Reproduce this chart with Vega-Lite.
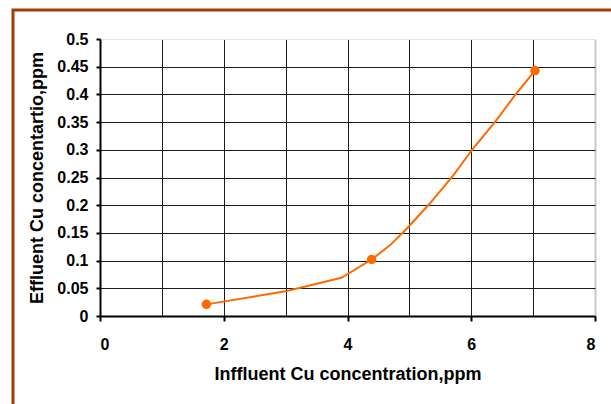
{
  "$schema": "https://vega.github.io/schema/vega-lite/v6.json",
  "autosize": {"type": "none"},
  "width": 495,
  "height": 277,
  "padding": {"left": 100, "top": 39, "right": 16, "bottom": 88},
  "background": "white",
  "config": {
    "view": {"stroke": "#dcdcdc", "strokeWidth": 1},
    "font": "Liberation Sans"
  },
  "data": {
    "values": [
      {"influent": 1.72, "effluent": 0.021, "marker": true},
      {"influent": 3.02, "effluent": 0.045, "marker": false},
      {"influent": 3.9, "effluent": 0.069, "marker": false},
      {"influent": 4.39, "effluent": 0.102, "marker": true},
      {"influent": 4.69, "effluent": 0.128, "marker": false},
      {"influent": 4.96, "effluent": 0.158, "marker": false},
      {"influent": 5.33, "effluent": 0.203, "marker": false},
      {"influent": 5.71, "effluent": 0.254, "marker": false},
      {"influent": 6.02, "effluent": 0.301, "marker": false},
      {"influent": 6.41, "effluent": 0.354, "marker": false},
      {"influent": 6.73, "effluent": 0.402, "marker": false},
      {"influent": 7.03, "effluent": 0.443, "marker": true}
    ]
  },
  "encoding": {
    "x": {
      "field": "influent", "type": "quantitative",
      "scale": {"domain": [0, 8], "nice": false, "zero": false},
      "axis": {
        "title": "Inffluent Cu concentration,ppm",
        "values": [0, 1, 2, 3, 4, 5, 6, 7, 8],
        "labelExpr": "datum.value % 2 === 0 ? datum.label : ''",
        "tickOpacity": {"condition": {"test": "datum.value % 2 === 0", "value": 1}, "value": 0},
        "tickColor": "#000", "tickSize": 5, "tickWidth": 2,
        "domainColor": "#000", "domainWidth": 2,
        "grid": true,
        "gridColor": {"condition": {"test": "datum.value === 8", "value": "#c8c8c8"}, "value": "#1a1a1a"},
        "gridWidth": {"condition": {"test": "datum.value === 8", "value": 2}, "value": 1},
        "labelFont": "Liberation Sans", "labelFontWeight": "bold", "labelFontSize": 16, "labelColor": "#000",
        "labelPadding": 15,
        "titleFont": "Liberation Sans", "titleFontWeight": "bold", "titleFontSize": 18, "titleColor": "#000",
        "titlePadding": 13
      }
    },
    "y": {
      "field": "effluent", "type": "quantitative",
      "scale": {"domain": [0, 0.5], "nice": false},
      "axis": {
        "title": "Effluent Cu concentartio,ppm",
        "values": [0, 0.05, 0.1, 0.15, 0.2, 0.25, 0.3, 0.35, 0.4, 0.45, 0.5],
        "format": "~g",
        "tickColor": "#000", "tickSize": 4, "tickWidth": 2,
        "domainColor": "#000", "domainWidth": 2,
        "grid": true,
        "gridColor": {"condition": {"test": "datum.value === 0.5", "value": "#e6e6e6"}, "value": "#1a1a1a"},
        "gridWidth": 1,
        "labelFont": "Liberation Sans", "labelFontWeight": "bold", "labelFontSize": 16, "labelColor": "#000",
        "labelPadding": 8,
        "titleFont": "Liberation Sans", "titleFontWeight": "bold", "titleFontSize": 18, "titleColor": "#000",
        "titlePadding": 10
      }
    }
  },
  "layer": [
    {
      "data": {"values": [{"frame": "border"}]},
      "mark": {"type": "rect", "fill": null, "stroke": "#A33B0B", "strokeWidth": 3, "clip": false},
      "encoding": {
        "x": {"value": -87},
        "x2": {"value": 521},
        "y": {"value": -29},
        "y2": {"value": 375}
      }
    },
    {
      "mark": {"type": "line", "color": "#FF6A00", "strokeWidth": 2, "interpolate": "linear"}
    },
    {
      "transform": [{"filter": "datum.marker"}],
      "mark": {"type": "point", "filled": true, "color": "#FF6A00", "size": 90, "opacity": 1}
    }
  ]
}
